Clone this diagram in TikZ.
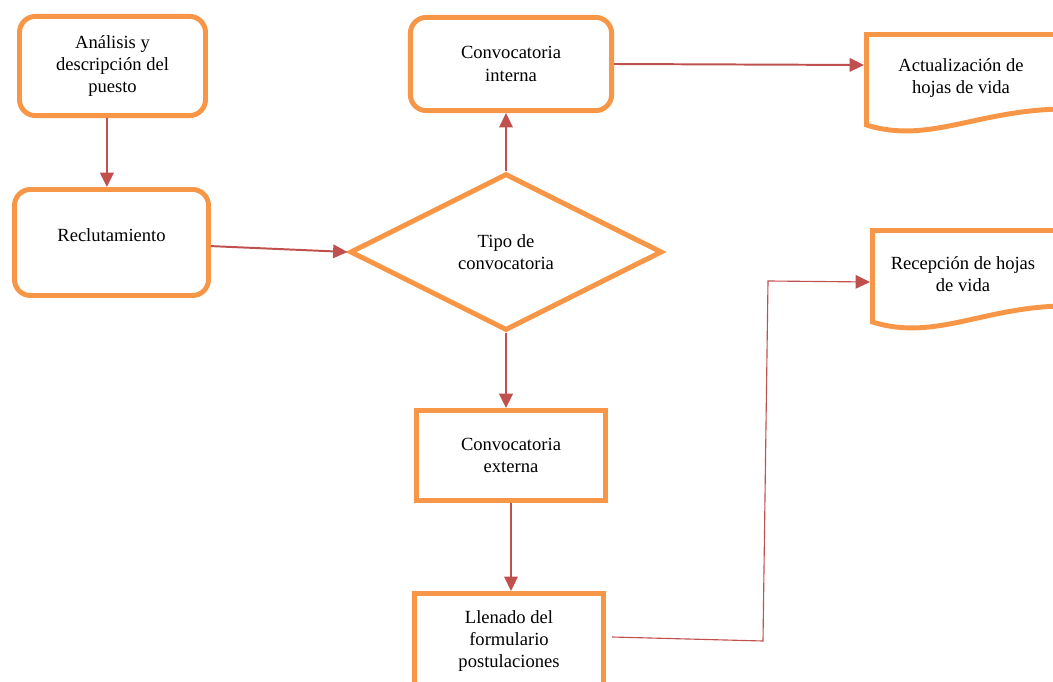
\documentclass[tikz,border=0pt]{standalone}
\usepackage{fontspec}
\setmainfont{Liberation Serif}
\usetikzlibrary{shapes.geometric,arrows.meta}
\definecolor{naranja}{RGB}{247,150,70}
\definecolor{rojo}{RGB}{192,80,77}

\begin{document}
\begin{tikzpicture}[x=0.025cm, y=-0.025cm,
        font=\fontsize{13.2}{15.8}\selectfont,
        caja/.style={draw=naranja, line width=3.5pt, align=center, inner sep=0pt},
        cajar/.style={caja, rounded corners=0.4cm},
        flecha/.style={-{Triangle[length=0.36cm,width=0.34cm]}, draw=rojo, line width=1.4pt}]
    \useasboundingbox (0,0) rectangle (1053,682);
    \clip (0,0) rectangle (1053,682);

    %% columna izquierda
    \node[cajar, minimum width=4.65cm, minimum height=2.48cm] (analisis) at (112.5,66)
        {Análisis y\\descripción del\\puesto};
    \node[cajar, minimum width=4.85cm, minimum height=2.65cm,
        label={[yshift=0.19cm]center:Reclutamiento}] (reclut) at (111.5,242.5) {};

    %% centro
    \node[caja, diamond, minimum width=7.8cm, minimum height=3.92cm] (tipo) at (506,252)
        {Tipo de\\convocatoria};
    \node[cajar, minimum width=5.03cm, minimum height=2.33cm] (interna) at (511,64)
        {Convocatoria\\interna};
    \node[caja, minimum width=4.73cm, minimum height=2.25cm] (externa) at (511,455.5)
        {Convocatoria\\externa};
    \node[caja, minimum width=4.73cm, minimum height=2.38cm] (llenado) at (509,641)
        {Llenado del\\formulario\\postulaciones};

    %% documentos
    \draw[naranja, line width=3.5pt] (866.5,34.5) -- (1070,34.5) -- (1070,109)
        .. controls (980,108) and (930,145) .. (866.5,125) -- cycle;
    \node (actualizacion) at (961,78) [align=center] {Actualización de\\hojas de vida};
    \coordinate (act_in) at (864,65);

    \draw[naranja, line width=3.5pt] (872.5,230.5) -- (1070,230.5) -- (1070,306)
        .. controls (986,305) and (936,342) .. (872.5,322) -- cycle;
    \node (recepcion) at (963,274) [align=center] {Recepción de hojas\\de vida};
    \coordinate (rec_in) at (870,282);

    %% flechas
    \draw[flecha] ([xshift=-0.14cm]analisis.south) -- ([xshift=-0.14cm]analisis.south |- reclut.north);
    \draw[flecha] ([yshift=-0.09cm]reclut.east) -- (tipo.west);
    \draw[flecha] (tipo.north) -- (tipo.north |- interna.south);
    \draw[flecha] (interna.east) -- (act_in);
    \draw[flecha] (tipo.south) -- (tipo.south |- externa.north);
    \draw[flecha] (externa.south) -- (externa.south |- llenado.north);

    %Llenado -> Recepcion
    \coordinate (codo1) at (763,641);
    \coordinate (codo2) at (768,281);
    \draw[flecha, line width=0.8pt] ([xshift=0.15cm,yshift=0.1cm]llenado.east) -- (codo1) -- (codo2) -- (rec_in);
\end{tikzpicture}
\end{document}
